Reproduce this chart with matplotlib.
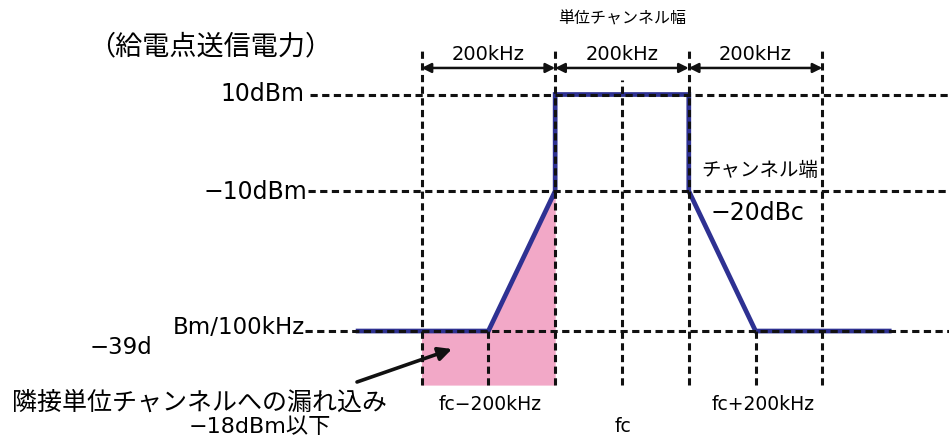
"""Transmit-power spectrum mask sketch (unit channel, adjacent leakage)."""
import matplotlib
matplotlib.use("Agg")
import matplotlib.pyplot as plt

MIXED = ["DejaVu Sans", "Noto Sans CJK JP"]
plt.rcParams["font.family"] = ["Noto Sans CJK JP", "DejaVu Sans"]
plt.rcParams["lines.scale_dashes"] = False

# Frequency offsets from fc in kHz, power levels in dBm.
MASK_X = [-395, -200, -100, -100, 100, 100, 200, 400]
MASK_Y = [-39, -39, -10, 10, 10, -10, -39, -39]
LEAK_X = [-300, -200, -100]
LEAK_Y = [-39, -39, -10]
LEVELS = [10, -10, -39]
LEVEL_START = [-467, -470, -475]
BOUNDS = [-300, -100, 100, 300]          # 200 kHz span edges
OFFSETS = [-200, 200]                    # fc +/- 200 kHz markers
FLOOR = -50.2

W, H = 949, 438
fig = plt.figure(figsize=(W / 100, H / 100), dpi=100)
ax = fig.add_axes([0, 0, 1, 1])
ax.set_xlim(-931, 489.5)
ax.set_ylim(-61.16, 29.58)
ax.axis("off")

BLUE = "#2e3192"
PINK = "#f2a8c7"
DASH = dict(color="#111111", lw=2.2, dashes=(5.2, 3.2), zorder=3)


def fpx(x, y):
    """Pixel position (from top-left) to figure fraction."""
    return x / W, 1 - y / H


# leakage area and mask
ax.fill_between(LEAK_X, LEAK_Y, FLOOR, color=PINK, lw=0, zorder=1)
ax.plot(MASK_X, MASK_Y, color=BLUE, lw=3.4, zorder=2, solid_joinstyle="miter")

# reference grid
for lvl, x0 in zip(LEVELS, LEVEL_START):
    ax.plot([x0, 489.5], [lvl, lvl], **DASH)
for bx in BOUNDS:
    ax.plot([bx, bx], [FLOOR, 19.2], **DASH)
ax.plot([0, 0], [FLOOR, 13.0], **DASH)
for ox in OFFSETS:
    ax.plot([ox, ox], [FLOOR, -39], **DASH)

# 200 kHz spans
for a, b in zip(BOUNDS[:-1], BOUNDS[1:]):
    ax.annotate("", xy=(b, 15.5), xytext=(a, 15.5),
                arrowprops=dict(arrowstyle="<|-|>", color="#111111", lw=1.8,
                                mutation_scale=14, shrinkA=0, shrinkB=0),
                zorder=4)
    ax.text((a + b) / 2, 16.3, "200kHz", ha="center", va="bottom",
            fontsize=14, family=MIXED)

ax.text(0, 23.8, "単位チャンネル幅", ha="center", va="bottom", fontsize=11.5)

T = fig.transFigure
fig.text(*fpx(210, 47), "（給電点送信電力）", ha="center", va="center", fontsize=19.5)
fig.text(*fpx(304, 94), "10dBm", ha="right", va="center", fontsize=17, family=MIXED)
fig.text(*fpx(307, 192), "−10dBm", ha="right", va="center", fontsize=17, family=MIXED)
fig.text(*fpx(305, 328), "Bm/100kHz", ha="right", va="center", fontsize=16.5, family=MIXED)
fig.text(*fpx(90, 347), "−39d", ha="left", va="center", fontsize=16.5, family=MIXED)
fig.text(*fpx(760, 170), "チャンネル端", ha="center", va="center", fontsize=14)
fig.text(*fpx(757, 213), "−20dBc", ha="center", va="center", fontsize=17, family=MIXED)
fig.text(*fpx(490, 404), "fc−200kHz", ha="center", va="center", fontsize=13.5, family=MIXED)
fig.text(*fpx(623, 426), "fc", ha="center", va="center", fontsize=13.5, family=MIXED)
fig.text(*fpx(763, 404), "fc+200kHz", ha="center", va="center", fontsize=13.5, family=MIXED)
fig.text(*fpx(200, 403), "隣接単位チャンネルへの漏れ込み", ha="center", va="center", fontsize=18)
fig.text(*fpx(260, 427), "−18dBm以下", ha="center", va="center", fontsize=16, family=MIXED)

fig.patches.append(matplotlib.patches.FancyArrowPatch(
    fpx(357, 382), fpx(452, 349), transform=T, arrowstyle="-|>",
    mutation_scale=20, lw=2.6, color="#111111", shrinkA=0, shrinkB=0))

fig.savefig("out.png", dpi=100)
